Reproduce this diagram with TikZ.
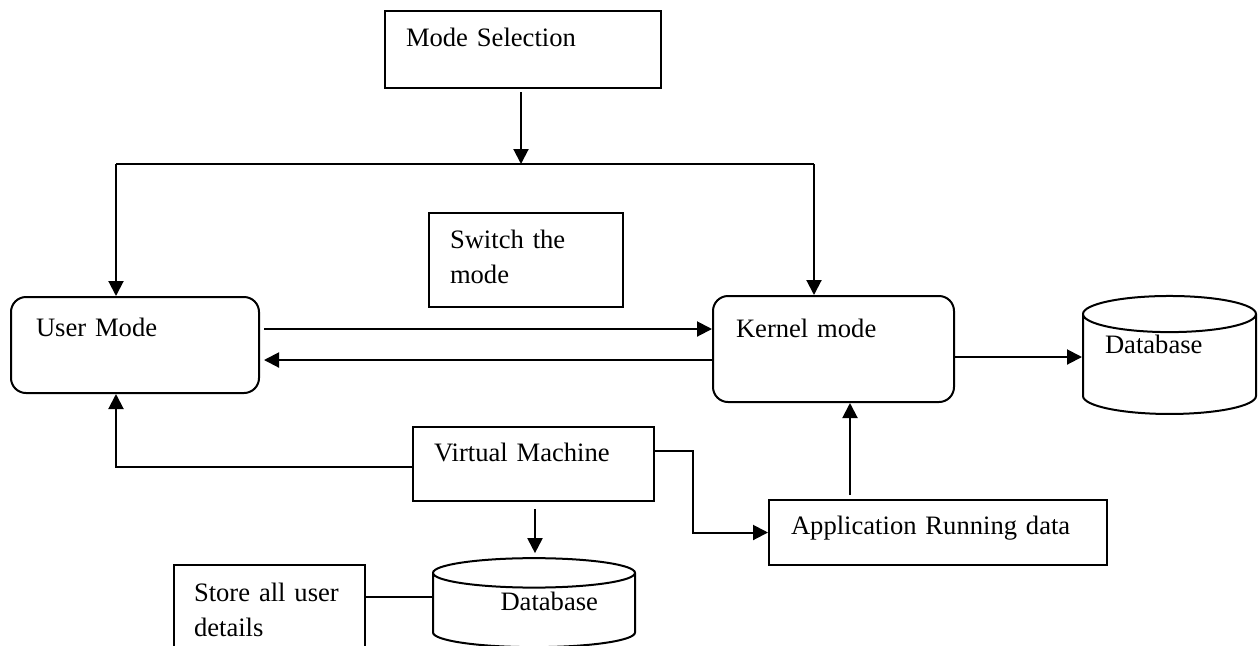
\documentclass[tikz,border=0pt]{standalone}
\usepackage{fontspec}
\setmainfont{Liberation Serif}
\usetikzlibrary{arrows.meta,shapes.geometric,calc}

\begin{document}
\begin{tikzpicture}[
    x=0.5pt, y=-0.5pt,
    >={Triangle[length=7.5pt,width=7.5pt]},
    font=\fontsize{13.3}{17.5}\selectfont,
    line width=1pt,
    blk/.style={
        draw, anchor=north west,
        inner ysep=0pt, inner xsep=10.5pt,
        align=left,
    },
    modebox/.style={blk, rounded corners=7.5pt},
    dbase/.style={
        draw, cylinder, shape border rotate=90,
        inner sep=0pt,
    },
    flow/.style={->, line width=1pt},
]
\path[use as bounding box, clip] (0,0) rectangle (1260,645);

% ============================================================
% TOP: mode selection and switch note
% ============================================================
\node[blk, text width=117pt, text height=17.5pt, text depth=21pt]
    (modesel) at (384,10) {Mode Selection};

\node[blk, text width=76pt, text height=17.5pt, text depth=29.5pt]
    (switch) at (428,212) {Switch the\\mode};

% ============================================================
% MODES
% ============================================================
\node[modebox, inner xsep=12.5pt, text width=99pt,
    text height=19.5pt, text depth=28.5pt]
    (usermode) at (10,296) {User Mode};

\node[modebox, inner xsep=11.5pt, text width=97.5pt,
    text height=20.5pt, text depth=32.5pt]
    (kernel) at (712,295) {Kernel mode};

\node[dbase, minimum width=86.5pt, minimum height=59pt, aspect=0.28,
    text width=64.5pt, align=left, text height=9pt, text depth=20pt]
    (dbK) at (1169.5,364.5) {Database};

% ============================================================
% BOTTOM: virtual machine, application data, storage
% ============================================================
\node[blk, text width=99.5pt, text height=17pt, text depth=20pt]
    (vm) at (412,426) {Virtual Machine};

\node[blk, inner xsep=11pt, text width=147pt, text height=17pt, text depth=15.5pt]
    (app) at (768,499) {Application Running data};

\node[dbase, minimum width=101pt, minimum height=44.5pt, aspect=0.23,
    text width=64pt, align=right, text height=9pt, text depth=9.5pt]
    (dbU) at (534,610.5) {Database};

\node[blk, inner xsep=10pt, text width=75.5pt, text height=18pt, text depth=40pt]
    (store) at (173,564) {Store all user\\details};

% ============================================================
% CONNECTORS
% ============================================================
\coordinate (bus) at (521,164);
\coordinate (busL) at (116,164);
\coordinate (busR) at (814,164);
\coordinate (toK) at (0,329);
\coordinate (toU) at (0,360);
\coordinate (toDB) at (0,357);
\coordinate (vmU) at (0,467);
\coordinate (vmA) at (0,451);
\coordinate (vaX) at (693,0);
\coordinate (akX) at (850,0);
\coordinate (vdX) at (535,0);
\coordinate (sdY) at (0,597);

% selection bus
\draw[flow, shorten <=1.5pt] (modesel.south -| bus) -- (bus);
\draw (busL) -- (busR);
\draw[flow] (busL) -- (busL |- usermode.north);
\draw[flow] (busR) -- (busR |- kernel.north);

% switching between modes
\draw[flow, shorten <=2pt] (usermode.east |- toK) -- (kernel.west |- toK);
\draw[flow, shorten >=2pt] (kernel.west |- toU) -- (usermode.east |- toU);
\draw[flow] (kernel.east |- toDB) -- (dbK.west |- toDB);

% virtual machine links
\draw[flow] (vm.west |- vmU) -| (busL |- usermode.south);
\draw[flow] (vm.east |- vmA) -| (vaX |- app.west) -- (app.west);
\draw[flow, shorten <=2pt] (app.north -| akX) -- (kernel.south -| akX);
\draw[flow, shorten <=3.5pt, shorten >=2pt] (vm.south -| vdX) -- (dbU.north -| vdX);
\draw (store.east |- sdY) -- (dbU.west |- sdY);

\end{tikzpicture}
\end{document}
